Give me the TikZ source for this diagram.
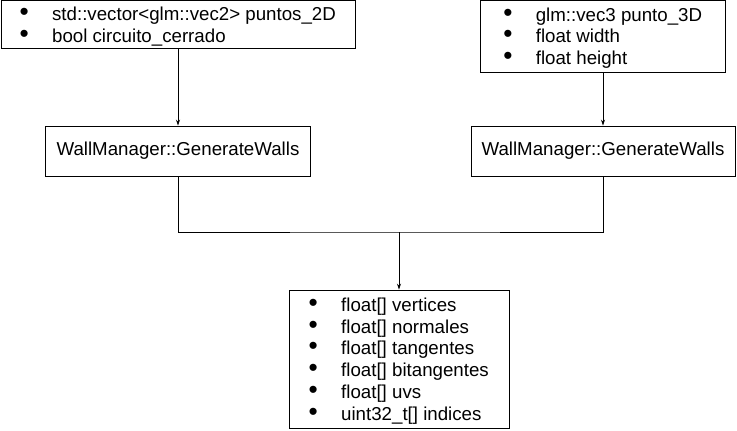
\documentclass[tikz,border=0pt]{standalone}
\usepackage{fontspec}
\setmainfont{Liberation Sans}
\usetikzlibrary{arrows.meta}

\tikzset{
  caja/.style={draw, line width=0.9pt, inner sep=0pt, font=\fontsize{18.7}{21.7}\selectfont},
  lista/.style={caja, align=left, text depth=0pt},
  flecha/.style={line width=0.7pt, -{Stealth[length=6pt,width=4pt]}},
  linea/.style={line width=0.7pt}
}
\newcommand{\vin}{\makebox[8pt]{\scalebox{1.4}{\textbullet}}\hspace{24pt}}

\begin{document}
\begin{tikzpicture}[x=1pt,y=-1pt]
        \useasboundingbox (0,0) rectangle (737,431);
        % Cajas de entrada
        \node[lista, minimum width=354pt, minimum height=48pt] (entrada2d) at (178,24.5)
            {\vin std::vector<glm::vec2> puntos\_2D\\ \vin bool circuito\_cerrado};
        \node[lista, minimum width=245pt, minimum height=72pt] (entrada3d) at (603,36)
            {\vin glm::vec3 punto\_3D\\ \vin float width\\ \vin float height};

        % Generadores
        \node[caja, minimum width=265pt, minimum height=50pt] (gen1) at (178,151) {WallManager::GenerateWalls};
        \node[caja, minimum width=264pt, minimum height=50pt] (gen2) at (603,151) {WallManager::GenerateWalls};

        % Caja de salida
        \node[lista, minimum width=220pt, minimum height=138pt] (salida) at (399,359)
            {\vin float[] vertices\\ \vin float[] normales\\ \vin float[] tangentes\\
             \vin float[] bitangentes\\ \vin float[] uvs\\ \vin uint32\_t[] indices};

        % Conexiones
        \draw[flecha] (entrada2d) -- (gen1);
        \draw[flecha] (entrada3d) -- (gen2);
        \coordinate (union) at (399,232);
        \draw[linea] (gen1.south) |- (union) -| (gen2.south);
        \draw[flecha] (union) -- (salida);
    \end{tikzpicture}
\end{document}
